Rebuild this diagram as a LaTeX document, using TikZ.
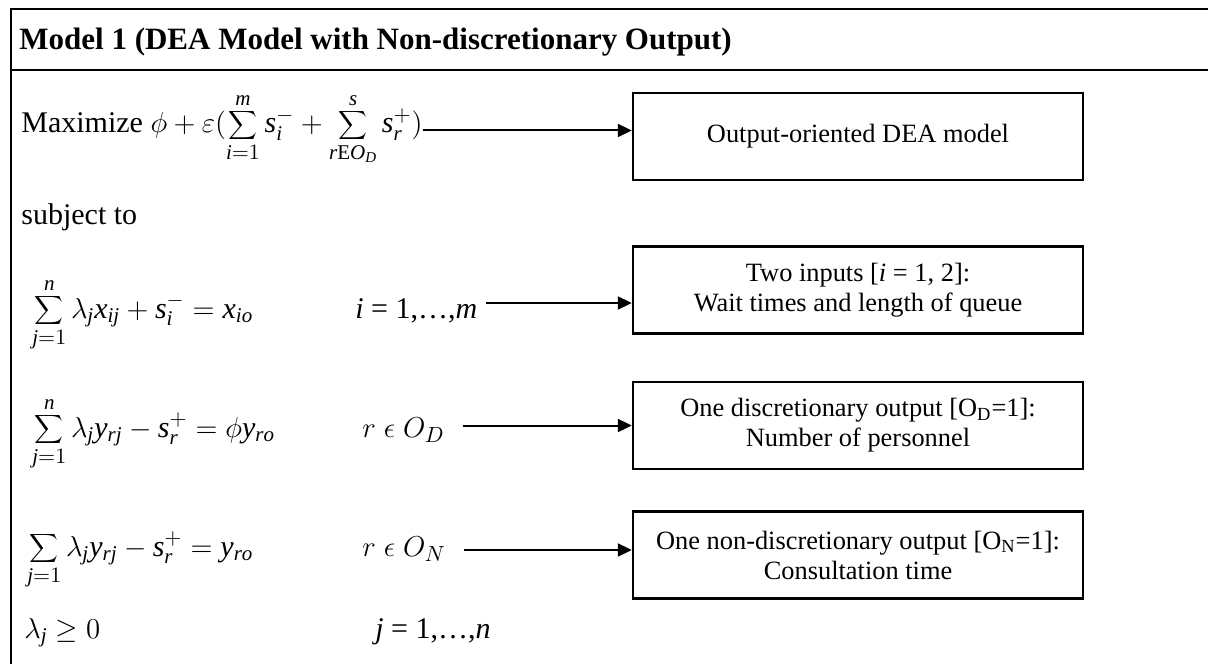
\documentclass[tikz,border=0pt]{standalone}
\usepackage{fontspec}
\setmainfont{Liberation Serif}
\usetikzlibrary{arrows.meta}
\newcommand\mv[1]{\mathit{#1}}
\tikzset{
  frameline/.style={line width=1pt},
  txt/.style={anchor=base west, inner sep=0pt, font=\fontsize{15}{18}\selectfont},
  infobox/.style={draw, line width=1.2pt, minimum width=225pt, minimum height=43.5pt,
    inner sep=2pt, align=center, font=\fontsize{13.2}{15}\selectfont},
  arr/.style={line width=1pt, -{Triangle[length=7pt,width=6.5pt]}}
}
\begin{document}
\begin{tikzpicture}[x=0.5pt,y=-0.5pt]
\useasboundingbox (0,0) rectangle (1208,663);
% frame
\draw[frameline] (1220,9) -- (11,9) -- (11,680);
\draw[frameline] (11,70) -- (1220,70);
% title
\node[anchor=base west, inner sep=0pt, font=\bfseries\fontsize{15.5}{18}\selectfont] (title) at (19,50)
  {Model 1 (DEA Model with Non-discretionary Output)};
% objective
\node[txt] (obj) at (21,133)
  {Maximize $\displaystyle \phi+\varepsilon(\sum_{\mv{i}=1}^{\mv{m}}\mv{s}_{\mv{i}}^{-}+\sum_{\mv{r}\mathrm{E}\mv{O}_{\mv{D}}}^{\mv{s}}\mv{s}_{\mv{r}}^{+})$};
\node[txt] (subj) at (21,225) {subject to};
% constraints
\node[txt] (c1) at (32,318)
  {$\displaystyle\sum_{\mv{j}=1}^{\mv{n}}\lambda_{\mv{j}}\mv{x}_{\mv{ij}}+\mv{s}_{\mv{i}}^{-}=\mv{x}_{\mv{io}}$};
\node[txt] (k1) at (355,318) {$\mv{i}$ = 1,\ldots,$\mv{m}$};
\node[txt] (c2) at (32,437)
  {$\displaystyle\sum_{\mv{j}=1}^{\mv{n}}\lambda_{\mv{j}}\mv{y}_{\mv{rj}}-\mv{s}_{\mv{r}}^{+}=\phi\mv{y}_{\mv{ro}}$};
\node[txt] (k2) at (362,437) {$r\;\epsilon\;O_D$};
\node[txt] (c3) at (27,556)
  {$\displaystyle\sum_{\mv{j}=1}\lambda_{\mv{j}}\mv{y}_{\mv{rj}}-\mv{s}_{\mv{r}}^{+}=\mv{y}_{\mv{ro}}$};
\node[txt] (k3) at (362,556) {$r\;\epsilon\;O_N$};
\node[txt] (c4) at (24,638) {$\lambda_{\mv{j}}\geq 0$};
\node[txt] (k4) at (375,638) {$\mv{j}$ = 1,\ldots,$\mv{n}$};
% boxes
\node[infobox] (b1) at (858,136.5) {Output-oriented DEA model};
\node[infobox] (b2) at (858,290) {Two inputs [\textit{i} = 1, 2]:\\Wait times and length of queue};
\node[infobox] (b3) at (858,425.5) {One discretionary output [O\textsubscript{D}=1]:\\Number of personnel};
\node[infobox] (b4) at (858,555) {One non-discretionary output [O\textsubscript{N}=1]:\\Consultation time};
% arrows
\draw[arr] ([yshift=3pt]b1.west -| obj.east) -- ([yshift=3pt]b1.west);
\draw[arr] ([yshift=-6.5pt]b2.west -| k1.east) ++(4pt,0) -- ([yshift=-6.5pt]b2.west);
\draw[arr] (b3.west -| k2.east) ++(9pt,0) -- (b3.west);
\draw[arr] ([yshift=2.5pt]b4.west -| k3.east) ++(9pt,0) -- ([yshift=2.5pt]b4.west);
\end{tikzpicture}
\end{document}
